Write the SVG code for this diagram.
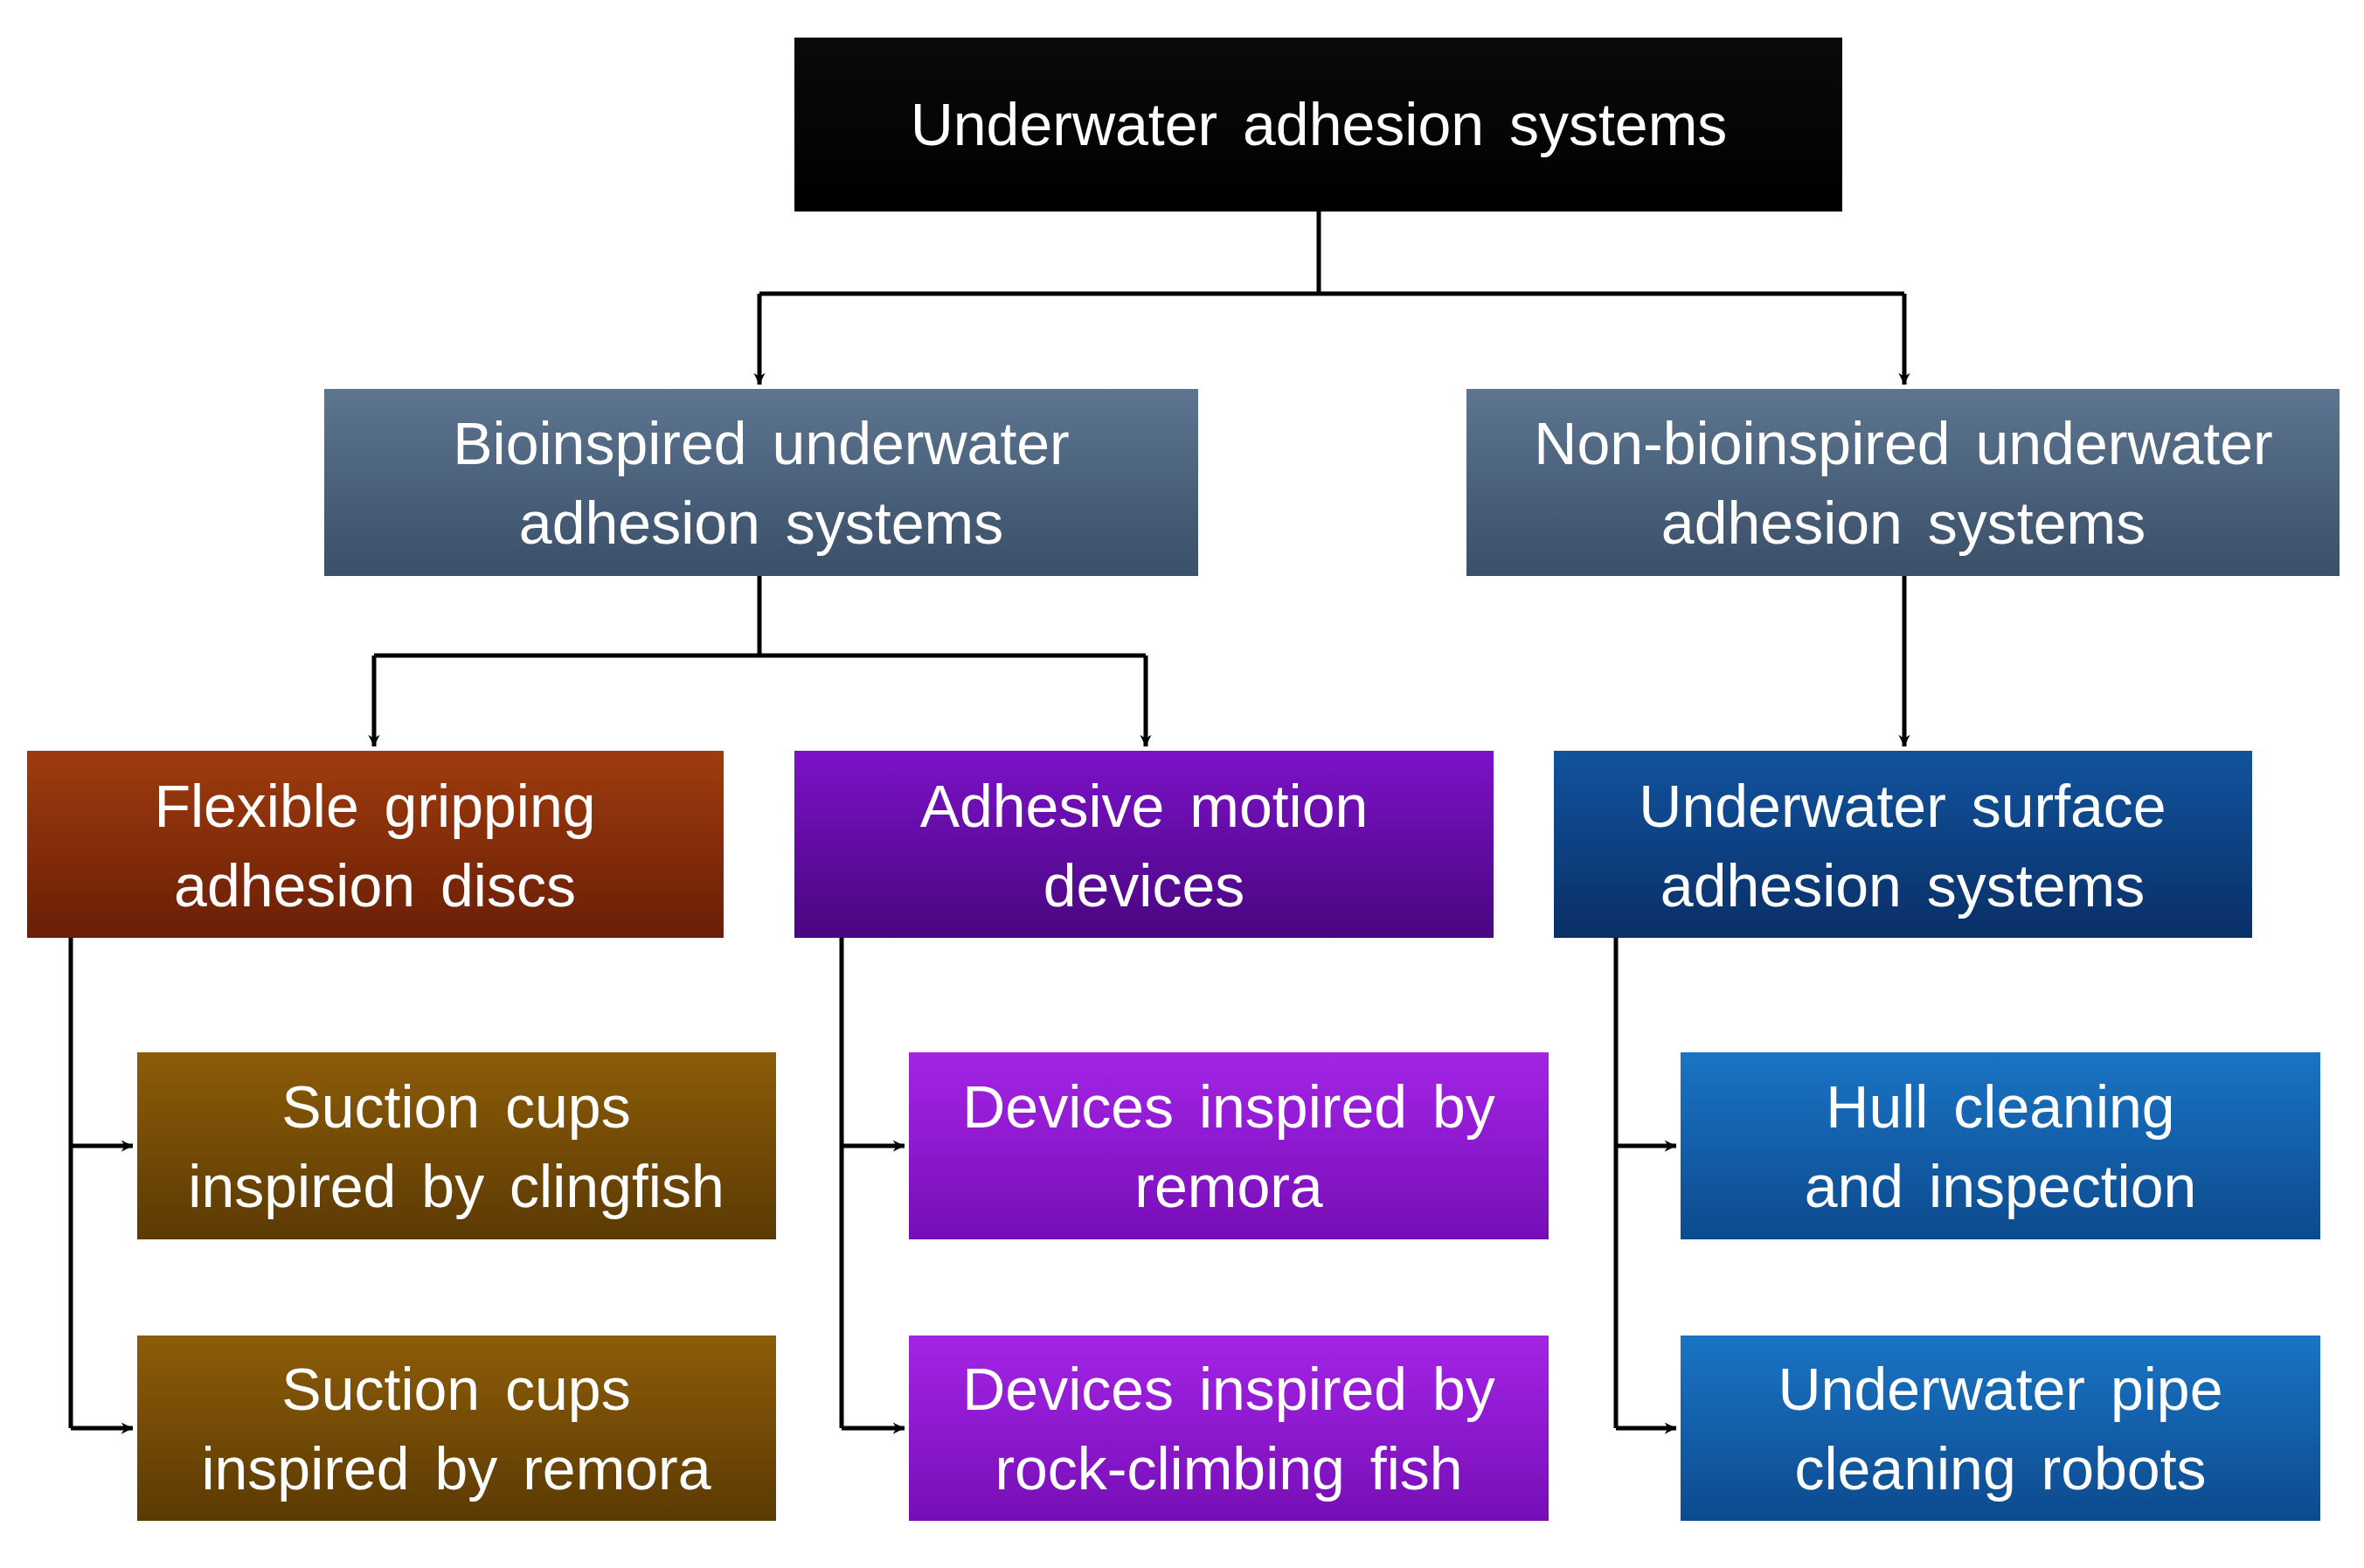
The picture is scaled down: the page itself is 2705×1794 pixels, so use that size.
<svg xmlns="http://www.w3.org/2000/svg" width="2705" height="1794" viewBox="0 0 2705 1794">
<defs>
<linearGradient id="gBlack" x1="0" y1="0" x2="0" y2="1"><stop offset="0" stop-color="#0a0a0a"/><stop offset="1" stop-color="#000"/></linearGradient>
<linearGradient id="gSlate" x1="0" y1="0" x2="0" y2="1"><stop offset="0" stop-color="#5d7590"/><stop offset="1" stop-color="#3a4f68"/></linearGradient>
<linearGradient id="gRust" x1="0" y1="0" x2="0" y2="1"><stop offset="0" stop-color="#9e3c0e"/><stop offset="1" stop-color="#6a1e06"/></linearGradient>
<linearGradient id="gPurple" x1="0" y1="0" x2="0" y2="1"><stop offset="0" stop-color="#7c12c8"/><stop offset="1" stop-color="#48067e"/></linearGradient>
<linearGradient id="gNavy" x1="0" y1="0" x2="0" y2="1"><stop offset="0" stop-color="#11539e"/><stop offset="1" stop-color="#0a2f66"/></linearGradient>
<linearGradient id="gBrown" x1="0" y1="0" x2="0" y2="1"><stop offset="0" stop-color="#8c5c08"/><stop offset="1" stop-color="#5c3a04"/></linearGradient>
<linearGradient id="gViolet" x1="0" y1="0" x2="0" y2="1"><stop offset="0" stop-color="#a424e6"/><stop offset="1" stop-color="#760eb6"/></linearGradient>
<linearGradient id="gBlue" x1="0" y1="0" x2="0" y2="1"><stop offset="0" stop-color="#1a74c4"/><stop offset="1" stop-color="#0c4a8e"/></linearGradient>
<marker id="arr" viewBox="0 0 10 10" refX="10" refY="5" markerWidth="6" markerHeight="6" orient="auto" markerUnits="userSpaceOnUse" style="overflow:visible"><path d="M0,0 L10,5 L0,10 L3,5 z" fill="#000" transform="scale(2.2) translate(-5.5,-2.7)"/></marker>
</defs>
<style>
text{font-family:"Liberation Sans",Arial,sans-serif;font-size:68px;fill:#fff;text-anchor:middle;word-spacing:10px}
.c{fill:none;stroke:#000;stroke-width:5}
rect{stroke:none}
</style>
<rect width="2705" height="1794" fill="#fff"/>
<g id="connectors">
<path class="c" d="M1509,242 V336 M869,336 H2179"/>
<path class="c" d="M869,336 V440" marker-end="url(#arr)"/>
<path class="c" d="M2179,336 V440" marker-end="url(#arr)"/>
<path class="c" d="M869,659 V750 M428,750 H1311"/>
<path class="c" d="M428,750 V854" marker-end="url(#arr)"/>
<path class="c" d="M1311,750 V854" marker-end="url(#arr)"/>
<path class="c" d="M2179,659 V854" marker-end="url(#arr)"/>
<path class="c" d="M81,1073 V1634"/>
<path class="c" d="M81,1311 H152" marker-end="url(#arr)"/>
<path class="c" d="M81,1634 H152" marker-end="url(#arr)"/>
<path class="c" d="M963,1073 V1634"/>
<path class="c" d="M963,1311 H1035" marker-end="url(#arr)"/>
<path class="c" d="M963,1634 H1035" marker-end="url(#arr)"/>
<path class="c" d="M1849,1073 V1634"/>
<path class="c" d="M1849,1311 H1918" marker-end="url(#arr)"/>
<path class="c" d="M1849,1634 H1918" marker-end="url(#arr)"/>
</g>
<g id="root"><rect x="909" y="43" width="1199" height="199" fill="url(#gBlack)"/><text x="1509" y="166">Underwater adhesion systems</text></g>
<g id="bio"><rect x="371" y="445" width="1000" height="214" fill="url(#gSlate)"/><text x="871" y="531">Bioinspired underwater</text><text x="871" y="622">adhesion systems</text></g>
<g id="nonbio"><rect x="1678" y="445" width="999" height="214" fill="url(#gSlate)"/><text x="2178" y="531">Non-bioinspired underwater</text><text x="2178" y="622">adhesion systems</text></g>
<g id="flex"><rect x="31" y="859" width="797" height="214" fill="url(#gRust)"/><text x="429" y="946">Flexible gripping</text><text x="429" y="1037">adhesion discs</text></g>
<g id="motion"><rect x="909" y="859" width="800" height="214" fill="url(#gPurple)"/><text x="1309" y="946">Adhesive motion</text><text x="1309" y="1037">devices</text></g>
<g id="surface"><rect x="1778" y="859" width="799" height="214" fill="url(#gNavy)"/><text x="2177" y="946">Underwater surface</text><text x="2177" y="1037">adhesion systems</text></g>
<g id="cling"><rect x="157" y="1204" width="731" height="214" fill="url(#gBrown)"/><text x="522" y="1290">Suction cups</text><text x="522" y="1381">inspired by clingfish</text></g>
<g id="remoraCup"><rect x="157" y="1528" width="731" height="212" fill="url(#gBrown)"/><text x="522" y="1613">Suction cups</text><text x="522" y="1704">inspired by remora</text></g>
<g id="remoraDev"><rect x="1040" y="1204" width="732" height="214" fill="url(#gViolet)"/><text x="1406" y="1290">Devices inspired by</text><text x="1406" y="1381">remora</text></g>
<g id="rock"><rect x="1040" y="1528" width="732" height="212" fill="url(#gViolet)"/><text x="1406" y="1613">Devices inspired by</text><text x="1406" y="1704">rock-climbing fish</text></g>
<g id="hull"><rect x="1923" y="1204" width="732" height="214" fill="url(#gBlue)"/><text x="2289" y="1290">Hull cleaning</text><text x="2289" y="1381">and inspection</text></g>
<g id="pipe"><rect x="1923" y="1528" width="732" height="212" fill="url(#gBlue)"/><text x="2289" y="1613">Underwater pipe</text><text x="2289" y="1704">cleaning robots</text></g>
</svg>
